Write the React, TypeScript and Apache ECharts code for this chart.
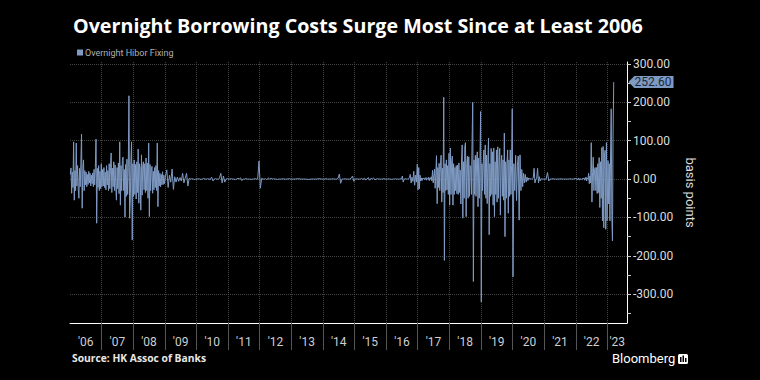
import React, { useEffect, useRef } from "react";
import * as echarts from "echarts";

const chartTitle = "Overnight Borrowing Costs Surge Most Since at Least 2006";
const seriesName = "Overnight Hibor Fixing";
const sourceText = "Source: HK Assoc of Banks";
const yAxisName = "basis points";

// daily change in overnight HIBOR fixing (bp), year by year
const v2006 = [12, 29, -37, 18, -22, 97, -55, 22, -30, 94, -18, 35, -25, -50, 28, -20, 40, 117, -76, 25, 50, -30, 22, -15, 18, -20, 12, -14, 20, -10, 15, -18, 10, -12, 16, -20, 25, -15, 30, 104, -115, 28, -22, 35, -30, 20, -25, 40];
const v2007 = [-20, 25, -18, 30, -22, 18, -28, 35, -15, 22, -30, 40, -25, 30, 68, -35, 28, -20, 45, -30, 37, -18, -55, 30, -25, 42, -38, 97, -68, 35, -30, 48, 57, -30, 25, -99, 38, -45, 52, -40, 30, 217, -102, -60, 45, 97, -159, 40];
const v2008 = [-45, 50, -40, 38, -52, 45, -35, 78, -63, 40, 29, -81, 63, -42, 35, 45, -28, 40, -35, 55, -30, 42, -50, 94, -98, 38, -30, 25, 33, -37, 20, -28, 30, -22, 35, -30, 94, -72, 22, -18, 15, -20, 12, -15, 19, -14, 10, -12];
const v2009 = [8, 24, -22, 10, -8, 26, -27, 6, -8, 5, -6, 4, -5, 15, -10, 3, 15, -18, 2, 0, 1, 0, -1, 0];
const v2010 = [0, 1, 0, -1, 0, 2, 0, 0, 1, 0, -1, 5, -5, 0, 1, 0, 0, 2, 15, -10, 8, -8, 0, 1];
const v2011 = [0, 0, 1, 0, 0, -1, 0, 2, 0, 3, -4, 0, 0, 1, 0, 0, 0, -1, 0, 0, 1, 0, 0, 47];
const v2012 = [-24, 2, 0, 0, 1, -2, 3, 0, 2, 0, 1, 0, 0, -1, 0, 0, 0, 1, 0, 0, 0, 0, 1, 0];
const v2013 = [0, 0, 1, 0, 0, 0, -1, 0, 0, 0, 1, 0];
const v2014 = [0, 0, 1, 0, 0, 0, 0, 1, 0, 0, 0, 2, 13, -11, 0, 0, 1, 0, 0, 0, 0, 2, 8, -6];
const v2015 = [0, 1, 0, 0, 0, 2, -2, 3, -2, 0, 4, -3, 2, 0, 3, -2, 0, 1, 0, 0, 0, 0, 1, 0];
const v2016 = [0, 0, 1, 0, 0, 0, -1, 0, 0, 0, 1, 0, 0, 0, 0, 0, 1, 0, 8, -8, 0, 0, 1, 0, 0, 0, 4, 12, -10, 5, -6, 20, -16, 10, -8, 39];
const v2017 = [-28, 30, -25, 10, -5, 3, -4, 2, 0, 3, -2, 0, 4, -3, 2, 0, 5, -4, 3, 0, 6, -5, 23, -10, 8, 26, -24, 15, 61, -64, 30, -22, 41, -30, 35, 62, -60, 28, -35, 213, -212, 40, -30, 50, -28, 35, -40, 67];
const v2018 = [-68, 81, -40, 45, 60, -68, 40, -40, 30, -30, 35, -38, 36, -40, 42, -35, 23, -65, 50, 89, -102, 45, -50, 84, 95, -98, 40, 60, -50, 58, -45, 35, 31, -40, 97, 200, -267, 50, -40, 62, -45, 55, 71, -72, 55, -50, 45, 176];
const v2019 = [-320, 40, -30, 45, 76, -40, 89, -50, 62, -64, 50, 107, -145, 40, -45, 80, -40, 71, -68, 81, -98, 45, -40, 76, -60, 84, -50, 45, 80, -94, 40, 62, -45, 50, -55, 120, -150, 45, -50, 40, 76, -89, 50, -45, 76, -40, 35, 183];
const v2020 = [-255, 40, -30, 62, -56, 35, 60, -107, 63, -30, 25, -20, 15, -10, 12, -8, 5, -4, 3, 0, 1, 0, 0, 2, 28, -10, 0, 2, 28, -10, 6, -5, 0, 1, 0, 0];
const v2021 = [0, 0, 17, -5, 0, 0, 1, 0, 0, 0, 0, 0, 1, 0, 0, 0, 0, 0, 0, 1, 0, 0, 0, 2];
const v2022 = [0, 2, -2, 0, 3, -3, 0, 1, 0, -2, 2, 0, 3, -3, 0, 5, -5, 3, 0, 15, -12, 8, -10, 95, -60, 20, 57, -30, 25, 30, -30, 30, -38, 40, -35, 56, -74, 45, -50, 82, -109, 85, -127, 60, 75, -131, 95, -109];
const v2023 = [48, -65, 40, -109, 60, 183, -95, -161, 120, 252.6];

const years = [2006, 2007, 2008, 2009, 2010, 2011, 2012, 2013, 2014, 2015, 2016, 2017, 2018, 2019, 2020, 2021, 2022, 2023];
const valuesByYear = [v2006, v2007, v2008, v2009, v2010, v2011, v2012, v2013, v2014, v2015, v2016, v2017, v2018, v2019, v2020, v2021, v2022, v2023];
const lastDate = 2023.2; // last fixing (fraction of year)
const axisStart = 2006;
const axisEnd = 2023.62;
const lastValue = 252.6;

const yLabelValues = [-300, -200, -100, 0, 100, 200, 300];
const yTickValues = [-350, -300, -250, -200, -150, -100, -50, 0, 50, 100, 150, 200, 250, 300];
const yearTickValues = [2007, 2008, 2009, 2010, 2011, 2012, 2013, 2014, 2015, 2016, 2017, 2018, 2019, 2020, 2021, 2022, 2023];

function buildData(): [number, number][] {
  const out: [number, number][] = [];
  years.forEach((yr, k) => {
    const vals = valuesByYear[k];
    const span = yr === 2023 ? lastDate - 2023 : 1;
    vals.forEach((v, i) => {
      const t = yr === 2023 ? yr + ((i + 1) / vals.length) * span : yr + ((i + 0.5) / vals.length) * span;
      out.push([t, v]);
    });
  });
  return out;
}

const yearLabelPositions = years.map((y) => (y === 2023 ? (2023 + axisEnd) / 2 : y + 0.5));

export default function App() {
  const ref = useRef<HTMLDivElement>(null);
  useEffect(() => {
    if (!ref.current) return;
    const chart = echarts.init(ref.current, null, { renderer: "svg" });
    const lineColor = "#7f9bc4";
    const font = "Roboto, 'Noto Sans', sans-serif";
    const headFont = "'Open Sans', Roboto, sans-serif";
    chart.setOption({
      animation: false,
      backgroundColor: "#000",
      title: {
        text: chartTitle,
        left: 68,
        top: 10,
        textStyle: { color: "#fff", fontSize: 19.7, fontWeight: "bold", fontFamily: headFont },
      },
      legend: {
        left: 72,
        top: 43,
        icon: "rect",
        itemWidth: 6,
        itemHeight: 6,
        itemGap: 4,
        data: [seriesName],
        textStyle: { color: "#b0b0b0", fontSize: 9, fontFamily: font, padding: [0, 0, 0, -3] },
      },
      grid: { left: 70, right: 133, top: 62, bottom: 57 },
      xAxis: {
        type: "value",
        min: axisStart,
        max: axisEnd,
        axisLine: { show: true, onZero: false, lineStyle: { color: "#fff", width: 1 } },
        axisTick: { show: true, customValues: yearTickValues, length: 27, lineStyle: { color: "#555" } },
        axisLabel: {
          customValues: yearLabelPositions,
          formatter: (v: number) => "'" + String(Math.floor(v + 1e-6)).slice(2),
          color: "#cfcfcf",
          fontSize: 12,
          fontFamily: font,
          margin: 13,
        },
        splitLine: { show: true, lineStyle: { color: "#444", type: "dotted", width: 1 } },
      },
      yAxis: {
        type: "value",
        position: "right",
        min: -375,
        max: 305,
        axisLine: { show: true, onZero: false, lineStyle: { color: "#fff", width: 1 } },
        axisTick: { show: true, customValues: yTickValues, length: 4, lineStyle: { color: "#ccc" } },
        axisLabel: {
          customValues: yLabelValues,
          formatter: (v: number) => v.toFixed(2),
          color: "#dcdcdc",
          fontSize: 12,
          fontFamily: font,
          margin: 6,
        },
        splitLine: { show: true, lineStyle: { color: ["transparent", "#444"], type: "dotted", width: 1 } },
        name: yAxisName,
        nameLocation: "middle",
        nameRotate: -90,
        nameGap: 47,
        nameTextStyle: { color: "#dcdcdc", fontSize: 13, fontFamily: font },
      },
      series: [
        {
          type: "line",
          name: seriesName,
          data: buildData(),
          showSymbol: false,
          symbol: "none",
          lineStyle: { width: 1, color: lineColor },
          itemStyle: { color: lineColor },
          markPoint: {
            symbol: "path://M0,6 L6,0 L46,0 L46,12 L6,12 Z",
            symbolSize: [45, 12],
            symbolOffset: [24, 0],
            itemStyle: { color: lineColor },
            label: {
              show: true,
              position: "inside",
              formatter: () => lastValue.toFixed(2),
              color: "#1b2737",
              fontSize: 12,
              fontFamily: font,
              offset: [2, 0],
            },
            data: [{ coord: [axisEnd, lastValue], value: lastValue }],
          },
        },
      ],
      graphic: [
        {
          type: "text",
          left: 72,
          top: 353,
          style: { text: sourceText, fill: "#e8e8e8", font: "bold 10.3px " + headFont },
        },
        {
          type: "text",
          left: 612,
          top: 352,
          style: { text: "Bloomberg", fill: "#fff", font: "13px " + font },
        },
        {
          type: "group",
          left: 678,
          top: 354,
          children: [
            { type: "rect", shape: { x: 0, y: 0, width: 10, height: 10, r: 1.5 }, style: { fill: "#fff" } },
            { type: "rect", shape: { x: 2, y: 3, width: 1.5, height: 5 }, style: { fill: "#000" } },
            { type: "rect", shape: { x: 4.5, y: 1.5, width: 1.5, height: 6.5 }, style: { fill: "#000" } },
            { type: "rect", shape: { x: 7, y: 4, width: 1.5, height: 4 }, style: { fill: "#000" } },
          ],
        },
      ],
    });
    return () => chart.dispose();
  }, []);
  return (
    <div
      ref={ref}
      style={{ position: "fixed", left: 0, top: 0, width: 760, height: 380, background: "#000" }}
    />
  );
}
